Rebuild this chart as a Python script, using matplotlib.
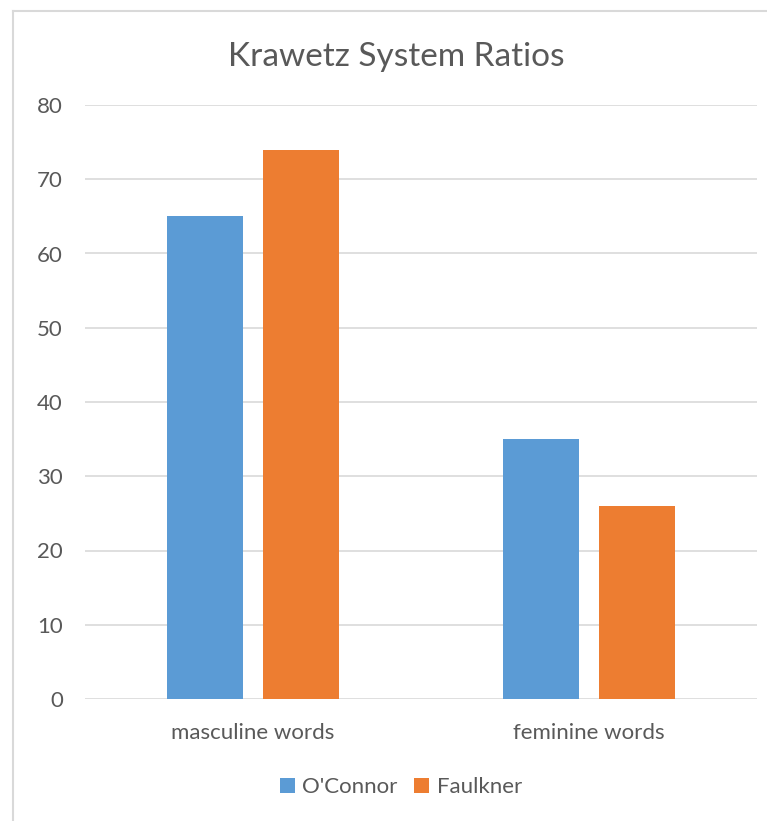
import numpy as np
import matplotlib.pyplot as plt
from matplotlib.lines import Line2D

categories = ["masculine words", "feminine words"]
series_names = ["O'Connor", "Faulkner"]
oconnor = [65, 35]
faulkner = [74, 26]
yticks = [0, 10, 20, 30, 40, 50, 60, 70, 80]

plt.rcParams['font.family'] = ['Lato', 'DejaVu Sans']
text_col = '#595959'

fig = plt.figure(figsize=(7.67, 8.21), dpi=100)
W, H = 767, 821
ax = fig.add_axes([85 / W, (H - 699) / H, (757 - 85) / W, (699 - 105) / H])

x = np.arange(len(categories))
bw = 0.226
off = 0.143
ax.bar(x - off, oconnor, bw, color='#5B9BD5', label=series_names[0], zorder=3)
ax.bar(x + off, faulkner, bw, color='#ED7D31', label=series_names[1], zorder=3)

ax.set_xlim(-0.5, 1.5)
ax.set_ylim(0, 80)
ax.set_yticks(yticks)
ax.set_xticks(x)
ax.set_xticklabels(categories)
ax.tick_params(axis='both', length=0, labelsize=16, colors=text_col)
ax.tick_params(axis='y', pad=16)
ax.tick_params(axis='x', pad=17)
ax.grid(axis='y', color='#D9D9D9', linewidth=1.2, zorder=0)
for s in ax.spines.values():
    s.set_visible(False)

fig.text(396 / W, 1 - 57 / H, "Krawetz System Ratios", ha='center', va='center',
         fontsize=24, color=text_col)

leg = fig.legend(loc='center', bbox_to_anchor=(401 / W, 1 - 787 / H), ncol=2,
                 frameon=False, fontsize=16, handlelength=0.65, handleheight=0.65,
                 handletextpad=0.35, columnspacing=0.75)
for t in leg.get_texts():
    t.set_color(text_col)

# outer chart border
fig.add_artist(Line2D([13 / W, 13 / W], [0, 1 - 11 / H], color='#D9D9D9', lw=1.5))
fig.add_artist(Line2D([13 / W, 1], [1 - 11 / H, 1 - 11 / H], color='#D9D9D9', lw=1.5))

fig.savefig('out.png', dpi=100)
